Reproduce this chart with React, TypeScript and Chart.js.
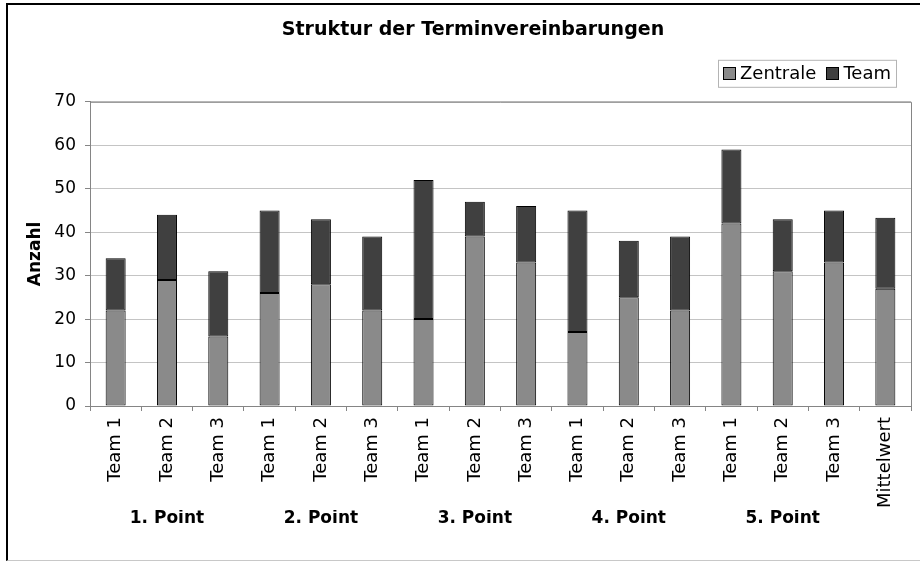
import React, { useEffect, useRef } from "react";
import { Chart, registerables } from "chart.js";

Chart.register(...registerables);

// ---- data ----
const titleText = "Struktur der Terminvereinbarungen";
const yAxisLabel = "Anzahl";
const categories = [
  "Team 1", "Team 2", "Team 3",
  "Team 1", "Team 2", "Team 3",
  "Team 1", "Team 2", "Team 3",
  "Team 1", "Team 2", "Team 3",
  "Team 1", "Team 2", "Team 3",
  "Mittelwert",
];
const groupLabels = [
  "", "1. Point", "",
  "", "2. Point", "",
  "", "3. Point", "",
  "", "4. Point", "",
  "", "5. Point", "",
  "",
];
const zentrale = [22, 29, 16, 26, 28, 22, 20, 39, 33, 17, 25, 22, 42, 31, 33, 27];
const team = [12, 15, 15, 19, 15, 17, 32, 8, 13, 28, 13, 17, 17, 12, 12, 16.3];
const seriesNames = ["Zentrale", "Team"];
const yMin = 0;
const yMax = 70;
const yStep = 10;

// ---- styles ----
const FONT = "'DejaVu Sans', 'Liberation Sans', Arial, sans-serif";
const COL_ZENTRALE = "#8a8a8a";
const COL_TEAM = "#404040";
const AXIS = "#858585";
const GRID = "#c4c4c4";

const legendBoxPlugin = {
  id: "legendBoxPlugin",
  afterDraw(chart: any) {
    const { ctx, chartArea } = chart;
    const ds = chart.data.datasets;
    ctx.save();
    ctx.font = `18px ${FONT}`;
    const box = 13;
    const gapText = 4;
    const gapItems = 10;
    const padX = 5;
    const widths = ds.map((d: any) => box + gapText + ctx.measureText(d.label).width);
    const total = Math.round(
      widths.reduce((a: number, b: number) => a + b, 0) + gapItems * (ds.length - 1) + padX * 2
    );
    const right = chartArea.right - 15;
    const top = chartArea.top - 42;
    const h = 27;
    const left = Math.round(right - total);
    ctx.fillStyle = "#ffffff";
    ctx.fillRect(left, top, total, h);
    ctx.strokeStyle = "#b4b4b4";
    ctx.lineWidth = 1;
    ctx.strokeRect(left + 0.5, top + 0.5, total, h);
    let x = left + padX;
    const cy = top + h / 2 + 0.5;
    ds.forEach((d: any, i: number) => {
      const bx = Math.round(x);
      const by = Math.round(cy - box / 2);
      ctx.fillStyle = d.backgroundColor;
      ctx.fillRect(bx, by, box, box);
      ctx.strokeStyle = "#000";
      ctx.strokeRect(bx + 0.5, by + 0.5, box - 1, box - 1);
      ctx.fillStyle = "#000";
      ctx.textBaseline = "middle";
      ctx.textAlign = "left";
      ctx.fillText(d.label, x + box + gapText, cy + 1);
      x += widths[i] + gapItems;
    });
    ctx.restore();
  },
};

const plotFramePlugin = {
  id: "plotFramePlugin",
  beforeDatasetsDraw(chart: any) {
    const { ctx, chartArea } = chart;
    ctx.save();
    ctx.strokeStyle = AXIS;
    ctx.lineWidth = 1;
    ctx.beginPath();
    ctx.moveTo(chartArea.left, chartArea.top + 0.5);
    ctx.lineTo(chartArea.right + 0.5, chartArea.top + 0.5);
    ctx.lineTo(chartArea.right + 0.5, chartArea.bottom);
    ctx.stroke();
    ctx.restore();
  },
};

export default function App() {
  const canvasRef = useRef<HTMLCanvasElement | null>(null);

  useEffect(() => {
    const canvas = canvasRef.current;
    if (!canvas) return;
    const chart = new Chart(canvas, {
      type: "bar",
      data: {
        labels: categories,
        datasets: [
          {
            label: seriesNames[0],
            data: zentrale,
            backgroundColor: COL_ZENTRALE,
            borderColor: "#000000",
            borderWidth: 1,
            borderSkipped: false,
            xAxisID: "x",
            yAxisID: "y",
          },
          {
            label: seriesNames[1],
            data: team,
            backgroundColor: COL_TEAM,
            borderColor: "#000000",
            borderWidth: 1,
            borderSkipped: false,
            xAxisID: "x",
            yAxisID: "y",
          },
        ],
      },
      options: {
        responsive: false,
        animation: false,
        devicePixelRatio: 1,
        layout: { padding: { left: 0, right: 0, top: 0, bottom: 26 } },
        datasets: {
          bar: { categoryPercentage: 1, barPercentage: 0.39 },
        },
        plugins: {
          title: {
            display: true,
            text: titleText,
            color: "#000",
            font: { family: FONT, size: 19, weight: "bold" },
            padding: { top: 19, bottom: 60 },
          },
          legend: { display: false },
          tooltip: { enabled: false },
        },
        scales: {
          x: {
            type: "category",
            stacked: true,
            offset: true,
            position: "bottom",
            weight: 0,
            grid: {
              display: true,
              drawOnChartArea: false,
              drawTicks: true,
              tickLength: 5,
              color: AXIS,
              offset: true,
            },
            border: { display: true, color: AXIS },
            ticks: {
              autoSkip: false,
              minRotation: 90,
              maxRotation: 90,
              padding: 6,
              color: "#000",
              font: { family: FONT, size: 18 },
            },
            afterFit: (s: any) => {
              s.height = 104;
            },
          },
          x2: {
            type: "category",
            labels: groupLabels,
            position: "bottom",
            weight: 1,
            offset: true,
            grid: { display: false, drawTicks: false },
            border: { display: false },
            ticks: {
              autoSkip: false,
              minRotation: 0,
              maxRotation: 0,
              padding: -2,
              color: "#000",
              font: { family: FONT, size: 17, weight: "bold" },
            },
            afterFit: (s: any) => {
              s.height = 25;
            },
          },
          y: {
            type: "linear",
            stacked: true,
            position: "left",
            min: yMin,
            max: yMax,
            ticks: {
              stepSize: yStep,
              padding: 9,
              color: "#000",
              font: { family: FONT, size: 17 },
            },
            grid: {
              color: GRID,
              tickColor: AXIS,
              tickLength: 5,
              drawTicks: true,
            },
            border: { display: true, color: AXIS },
            title: {
              display: true,
              text: yAxisLabel,
              color: "#000",
              font: { family: FONT, size: 17, weight: "bold" },
              padding: { top: 25, bottom: 0 },
            },
            afterFit: (s: any) => {
              s.width = 90;
            },
          },
          y2: {
            type: "linear",
            position: "right",
            display: true,
            grid: { display: false, drawTicks: false },
            border: { display: false },
            ticks: { display: false },
            afterFit: (s: any) => {
              s.width = 35;
            },
          },
        },
      },
      plugins: [plotFramePlugin, legendBoxPlugin],
    } as any);
    return () => {
      chart.destroy();
    };
  }, []);

  return (
    <div
      style={{
        position: "fixed",
        left: 0,
        top: 0,
        width: 920,
        height: 561,
        overflow: "hidden",
        background: "#ffffff",
      }}
    >
      <div
        style={{
          position: "absolute",
          left: 6,
          top: 3,
          width: 960,
          height: 555,
          borderLeft: "2px solid #000",
          borderTop: "2px solid #000",
          borderBottom: "1px solid #c8c8c8",
        }}
      />
      <canvas
        ref={canvasRef}
        width={946}
        height={561}
        style={{ position: "absolute", left: 0, top: 0, width: 946, height: 561 }}
      />
    </div>
  );
}
